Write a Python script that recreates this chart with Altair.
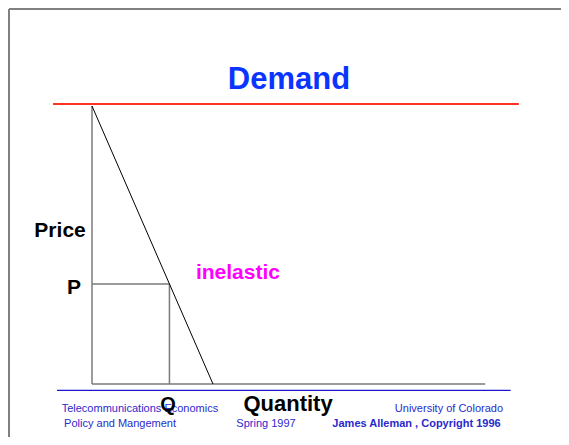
import altair as alt
import pandas as pd

# ---- data (quantity, price units) ----
demand_q = [0, 5]
demand_p = [10, 0]
price_level = 3.6      # P
quantity_level = 3.2   # Q
q_axis_end = 16.25
p_axis_top = 10

title_text = "Demand"
axis_labels = ["Price", "P", "Q", "Quantity"]
curve_label = "inelastic"
footer_left = ["Telecommunications Economics", "Policy and Mangement"]
footer_mid = ["Spring 1997"]
footer_right = ["University of Colorado", "James Alleman , Copyright 1996"]

W, H = 553, 429
xs = alt.Scale(domain=[-3.471, 19.380], nice=False, zero=False)
ys = alt.Scale(domain=[-1.906, 13.525], nice=False, zero=False)
FONT = "Liberation Sans"


def X(f="x"):
    return alt.X(f"{f}:Q", scale=xs, axis=None)


def Y(f="y"):
    return alt.Y(f"{f}:Q", scale=ys, axis=None)


def seg(rows, color, width):
    df = pd.DataFrame(rows, columns=["x", "y", "x2", "y2"])
    return alt.Chart(df).mark_rule(color=color, strokeWidth=width).encode(
        x=X(), y=Y(), x2="x2:Q", y2="y2:Q")


# axes of the diagram
axes = seg([[0, 0, q_axis_end, 0], [0, 0, 0, p_axis_top]], "#7a7a7a", 1.5)
guides = seg([[0, price_level, quantity_level, price_level],
              [quantity_level, 0, quantity_level, price_level]], "#7a7a7a", 1.5)

demand = alt.Chart(pd.DataFrame({"x": demand_q, "y": demand_p})).mark_line(
    color="black", strokeWidth=1).encode(x=X(), y=Y())

red_rule = seg([[-1.61, 10.07, 17.64, 10.07]], "#ff3322", 2)
blue_rule = seg([[-1.446, -0.227, 17.30, -0.227]], "#1a1acc", 1.2)

# slide border (left and top edges)
border = alt.Chart(pd.DataFrame({"a": [0]})).mark_rule(color="#808080", strokeWidth=2).encode(
    x=alt.value(1), x2=alt.value(1), y=alt.value(1), y2=alt.value(H))
border_top = alt.Chart(pd.DataFrame({"a": [0]})).mark_rule(color="#808080", strokeWidth=2).encode(
    x=alt.value(1), x2=alt.value(W), y=alt.value(1))


def texts(labels, xs_, ys_, size, color, weight):
    df = pd.DataFrame({"t": labels, "x": xs_, "y": ys_})
    return alt.Chart(df).mark_text(
        font=FONT, fontSize=size, fontWeight=weight, color=color,
        align="center", baseline="alphabetic").encode(x=X(), y=Y(), text="t:N")


title = texts([title_text], [8.14], [10.61], 31, "#0a35ff", "bold")
price_lbl = texts([axis_labels[0]], [-1.32], [5.29], 21, "black", "bold")
p_lbl = texts([axis_labels[1]], [-0.74], [3.24], 21, "black", "bold")
q_lbl = texts([axis_labels[2]], [3.14], [-0.97], 20, "black", "bold")
quant_lbl = texts([axis_labels[3]], [8.10], [-0.97], 22, "black", "bold")
inel = texts([curve_label], [6.03], [3.78], 21, "#ff00ff", "bold")

foot1 = texts(footer_left, [1.98, 1.16], [-1.01, -1.55], 11, "#2a2acc", "normal")
foot2 = texts(footer_mid, [7.19], [-1.55], 11, "#2a2acc", "normal")
foot3 = texts(footer_right[:1], [14.75], [-1.01], 11, "#2a2acc", "normal")
foot4 = texts(footer_right[1:], [13.41], [-1.55], 11, "#2a2acc", "bold")

chart = alt.layer(
    border, border_top, red_rule, blue_rule, axes, guides, demand,
    title, price_lbl, p_lbl, inel, foot1, foot2, foot3, foot4, q_lbl, quant_lbl
).properties(
    width=W, height=H, padding=0, background="white",
    autosize=alt.AutoSizeParams(type="none")
).configure_view(strokeWidth=0)

chart.save("out.html", embed_options={"renderer": "svg", "actions": False})
